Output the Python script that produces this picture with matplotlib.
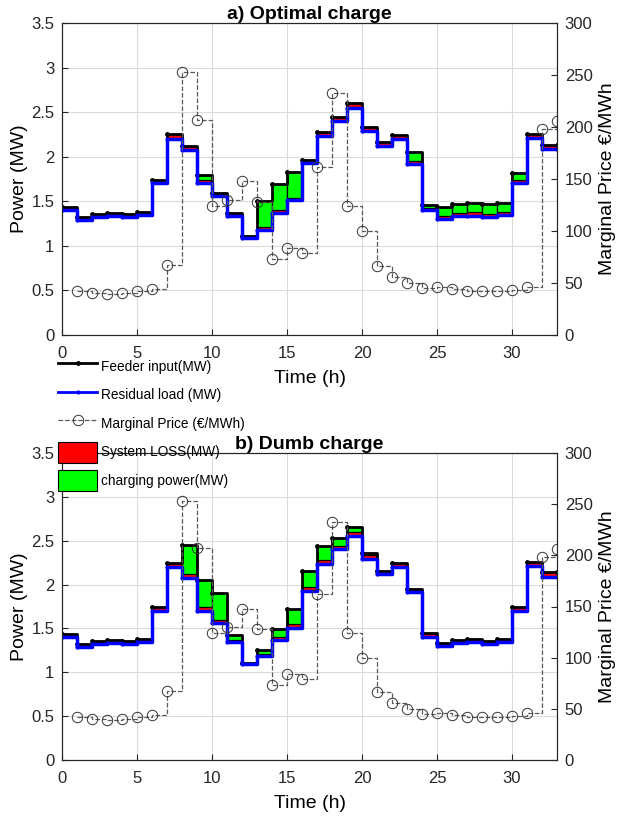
import numpy as np
import matplotlib
matplotlib.use("Agg")
import matplotlib.pyplot as plt
from matplotlib.patches import Patch
from matplotlib.lines import Line2D

plt.rcParams['font.family'] = ['Liberation Sans', 'DejaVu Sans']

# hourly data (hour 0..32)
hours = np.arange(33)
residual = np.array([1.40, 1.29, 1.32, 1.33, 1.32, 1.35, 1.70, 2.20, 2.08, 1.70,
                     1.56, 1.34, 1.09, 1.18, 1.37, 1.51, 1.93, 2.23, 2.40, 2.55,
                     2.29, 2.12, 2.20, 1.92, 1.40, 1.30, 1.33, 1.34, 1.32, 1.35,
                     1.70, 2.21, 2.09])
loss_opt = np.array([.035, .035, .035, .035, .035, .035, .04, .05, .045, .04,
                     .03, .03, .02, .03, .03, .03, .03, .045, .045, .05,
                     .045, .04, .045, .03, .03, .035, .035, .035, .035, .035,
                     .04, .045, .045])
charge_opt = np.array([0, 0, 0, 0, 0, 0, 0, 0, 0, .05,
                       0, 0, 0, .29, .29, .29, 0, 0, 0, 0,
                       0, 0, 0, .10, .03, .10, .10, .11, .11, .10,
                       .075, 0, 0])
loss_dumb = np.array([.035, .035, .035, .035, .035, .035, .04, .05, .04, .04,
                      .035, .03, .02, .03, .03, .04, .04, .05, .045, .05,
                      .045, .04, .045, .035, .045, .035, .035, .035, .035, .035,
                      .045, .05, .05])
charge_dumb = np.array([0, 0, 0, 0, 0, 0, 0, 0, .33, .31,
                        .31, .06, 0, .04, .09, .17, .18, .16, .09, .06,
                        .03, 0, 0, 0, 0, 0, 0, 0, 0, 0,
                        0, 0, 0])

# marginal price (hour 1..33)
price_hours = np.arange(1, 34)
price = np.array([42, 40, 39, 40, 42, 44, 67, 253, 207, 124, 130, 148, 128, 73,
                  84, 79, 162, 233, 124, 100, 66, 56, 50, 45, 46, 44, 42, 42,
                  42, 43, 46, 198, 206])

TICK_FS = 12
LABEL_FS = 14


def draw(ax, loss, charge, title):
    feeder = residual + loss + charge
    x_ext = np.append(hours, 33)
    ax.bar(hours, loss, width=1, bottom=residual, align='edge',
           color='r', edgecolor='k', linewidth=0.6, zorder=2)
    ax.bar(hours, charge, width=1, bottom=residual + loss, align='edge',
           color=(0, 1, 0), edgecolor='k', linewidth=0.9, zorder=2)
    ax.step(x_ext, np.append(feeder, feeder[-1]), where='post', color='k',
            lw=2.0, marker='.', ms=5, zorder=3)
    ax.step(x_ext, np.append(residual, residual[-1]), where='post', color='b',
            lw=2.5, marker='.', ms=4, zorder=4)

    ax.set_xlim(0, 33)
    ax.set_ylim(0, 3.5)
    ax.set_xticks(np.arange(0, 31, 5))
    ax.set_yticks(np.arange(0, 3.51, 0.5))
    ax.set_yticklabels(['0', '0.5', '1', '1.5', '2', '2.5', '3', '3.5'])
    ax.grid(True, color='0.86', lw=0.8)
    ax.set_axisbelow(True)
    ax.tick_params(direction='in', labelsize=TICK_FS, colors='0.15', length=4)
    ax.tick_params(axis='x', pad=8)
    ax.tick_params(axis='y', pad=5.5)
    for s in ax.spines.values():
        s.set_color('0.15')
        s.set_linewidth(0.8)
    ax.set_xlabel('Time (h)', fontsize=LABEL_FS, labelpad=6.5)
    ax.set_ylabel('Power (MW)', fontsize=LABEL_FS, labelpad=2)
    ax.set_title(title, fontsize=LABEL_FS, fontweight='bold', pad=2)

    ax2 = ax.twinx()
    ax2.step(price_hours, price, where='post', color='0.35', ls='--', lw=0.9,
             marker='o', mfc='none', mec='0.2', ms=7.5, mew=0.7)
    ax2.set_ylim(0, 300)
    ax2.set_yticks(np.arange(0, 301, 50))
    ax2.tick_params(direction='in', labelsize=TICK_FS, colors='0.15', length=4,
                    pad=5.5)
    for s in ax2.spines.values():
        s.set_color('0.15')
        s.set_linewidth(0.8)
    ax2.set_ylabel('Marginal Price €/MWh', fontsize=LABEL_FS, labelpad=5)


fig = plt.figure(figsize=(6.2, 8.19), dpi=100)
ax_a = fig.add_axes([62 / 620, 1 - 335 / 819, 495 / 620, 312 / 819])
ax_b = fig.add_axes([62 / 620, 1 - 760 / 819, 495 / 620, 307 / 819])

draw(ax_a, loss_opt, charge_opt, 'a) Optimal charge')
draw(ax_b, loss_dumb, charge_dumb, 'b) Dumb charge')

handles = [
    Line2D([], [], color='k', lw=2, marker='.', ms=5),
    Line2D([], [], color='b', lw=2, marker='.', ms=4),
    Line2D([], [], color='0.35', ls='--', lw=0.9, marker='o', mfc='none',
           mec='0.2', ms=7.5, mew=0.7),
    Patch(facecolor='r', edgecolor='k', lw=0.8),
    Patch(facecolor=(0, 1, 0), edgecolor='k', lw=0.8),
]
labels = ['Feeder input(MW)', 'Residual load (MW)', 'Marginal Price (€/MWh)',
          'System LOSS(MW)', 'charging power(MW)']
fig.legend(handles, labels, loc='upper left',
           bbox_to_anchor=(58 / 620, 1 - 356 / 819), frameon=False,
           fontsize=9.8, handlelength=2.9, handleheight=2.0,
           labelspacing=0.55, handletextpad=0.25, borderpad=0,
           borderaxespad=0)

fig.savefig('out.png', dpi=100)
